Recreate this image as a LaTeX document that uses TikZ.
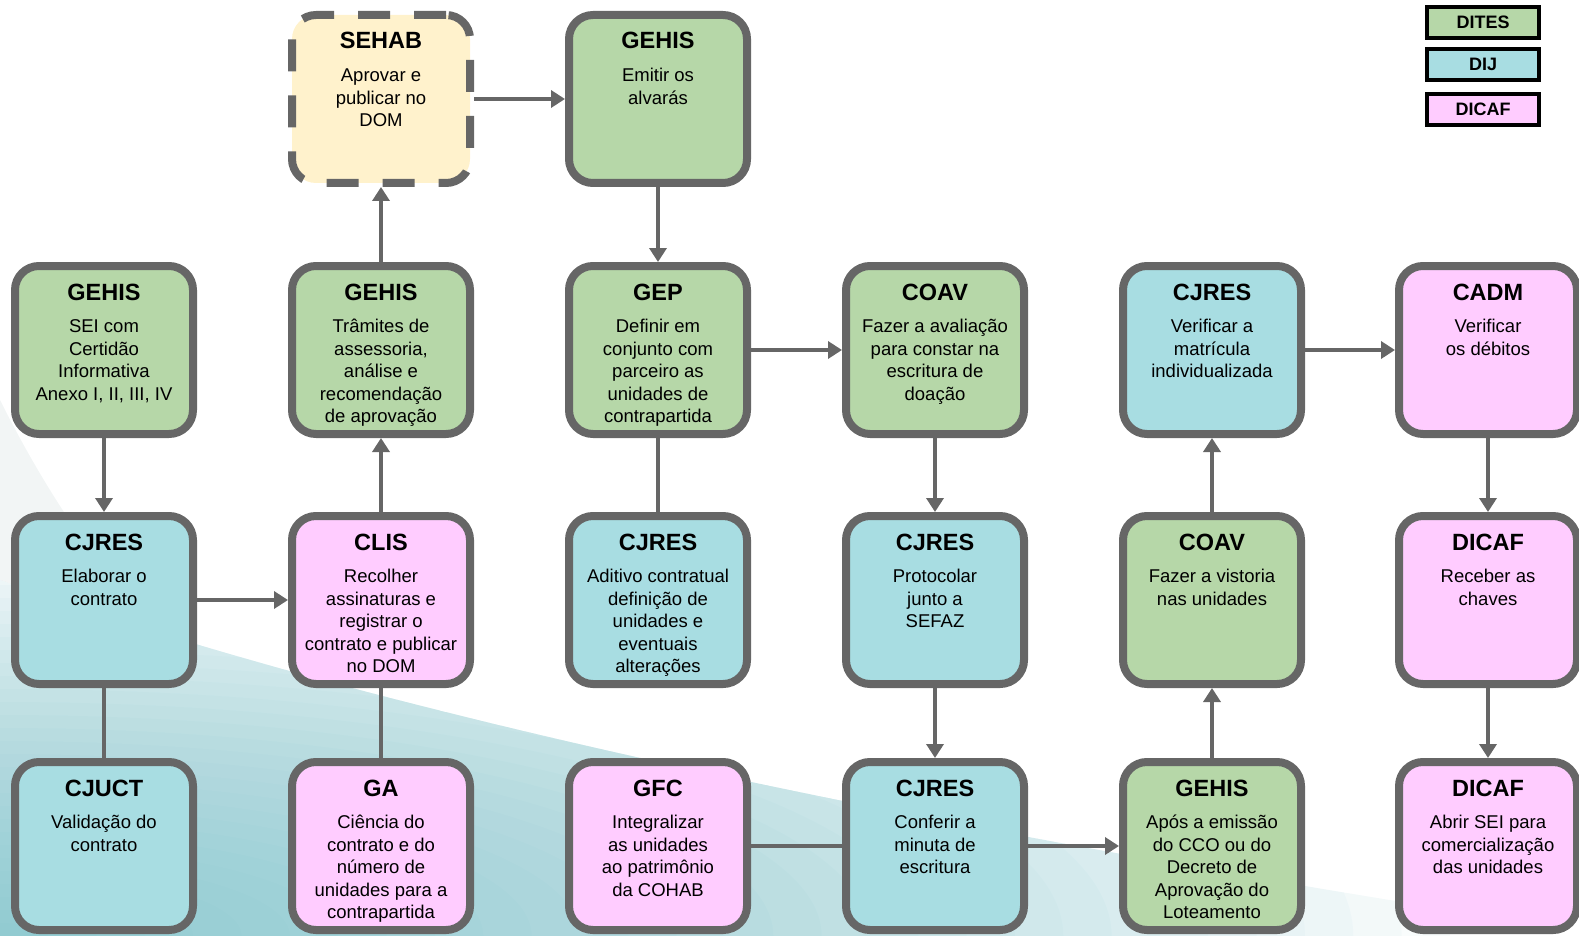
\documentclass[tikz,border=0pt]{standalone}
\usepackage{fontspec}
\setmainfont{Liberation Sans}
\usetikzlibrary{arrows.meta}

\definecolor{cinza}{HTML}{666666}
\definecolor{verde}{HTML}{B6D7A8}
\definecolor{ciano}{HTML}{A8DDE2}
\definecolor{rosa}{HTML}{FFCCFF}
\definecolor{creme}{HTML}{FFF2CC}
\definecolor{fundoL}{HTML}{6FBFC8}
\definecolor{fundoB}{HTML}{F2F5F5}

% one process step: name, x, y, fill style, unit, task
\newcommand{\etapa}[6]{%
  \node[box, #4] (#1) at (#2,#3) {};
  \node[ttl] (#1-t) at ([yshift=-38pt]#1.north) {#5};
  \node[txt] (#1-b) at ([yshift=-55pt]#1.north) {\strut #6};
}

\begin{document}
\begin{tikzpicture}[x=1pt, y=-1pt,
  box/.style={draw=cinza, line width=8pt, rounded corners=24pt,
    minimum width=178pt, minimum height=168pt, inner sep=0pt},
  ttl/.style={font=\fontsize{23.5}{23.5}\selectfont\bfseries, anchor=base, inner sep=0pt},
  txt/.style={font=\fontsize{18.5}{22.5}\selectfont, align=center, anchor=north, inner sep=0pt},
  legbox/.style={draw=black, line width=4pt, minimum width=112pt, minimum height=31pt,
    inner sep=0pt, font=\fontsize{18}{18}\selectfont\bfseries},
  seta/.style={draw=cinza, line width=4.5pt, -{Triangle[length=14pt,width=17pt]}},
  liga/.style={draw=cinza, line width=4.5pt},
  dites/.style={fill=verde}, dij/.style={fill=ciano}, dicaf/.style={fill=rosa},
  sehab/.style={fill=creme, dash pattern=on 32pt off 24pt}]

\useasboundingbox (0,0) rectangle (1579,936);

% soft background swoosh, lower left: thin translucent layers build the fade
\fill[fundoB] (0,400) .. controls (40,480) and (90,560) .. (170,650)
  -- (0,650) -- cycle;
\begin{scope}
  \clip (0,580) .. controls (250,670) and (700,795) .. (1579,930)
    -- (1579,936) -- (0,936) -- cycle;
  \fill[white] (0,560) rectangle (1579,936);
  \foreach \k in {1,...,30} {
    \fill[fundoL, opacity=0.04]
      (0,936) ellipse [x radius={48.33pt*\k}, y radius={13pt*\k}];
  }
\end{scope}

% row 1
\etapa{sehab}{381}{99}{sehab}{SEHAB}{Aprovar e\\publicar no\\DOM}
\etapa{alvaras}{658}{99}{dites}{GEHIS}{Emitir os\\alvarás}

% row 2
\etapa{sei}{104}{350}{dites}{GEHIS}{SEI com\\Certidão\\Informativa\\Anexo I, II, III, IV}
\etapa{tramites}{381}{350}{dites}{GEHIS}{Trâmites de\\assessoria,\\análise e\\recomendação\\de aprovação}
\etapa{gep}{658}{350}{dites}{GEP}{Definir em\\conjunto com\\parceiro as\\unidades de\\contrapartida}
\etapa{avaliacao}{935}{350}{dites}{COAV}{Fazer a avaliação\\para constar na\\escritura de\\doação}
\etapa{matricula}{1212}{350}{dij}{CJRES}{Verificar a\\matrícula\\individualizada}
\etapa{debitos}{1488}{350}{dicaf}{CADM}{Verificar\\os débitos}

% row 3
\etapa{elaborar}{104}{600}{dij}{CJRES}{Elaborar o\\contrato}
\etapa{clis}{381}{600}{dicaf}{CLIS}{Recolher\\assinaturas e\\registrar o\\contrato e publicar\\no DOM}
\etapa{aditivo}{658}{600}{dij}{CJRES}{Aditivo contratual\\definição de\\unidades e\\eventuais\\alterações}
\etapa{sefaz}{935}{600}{dij}{CJRES}{Protocolar\\junto a\\SEFAZ}
\etapa{vistoria}{1212}{600}{dites}{COAV}{Fazer a vistoria\\nas unidades}
\etapa{chaves}{1488}{600}{dicaf}{DICAF}{Receber as\\chaves}

% row 4
\etapa{cjuct}{104}{846}{dij}{CJUCT}{Validação do\\contrato}
\etapa{ga}{381}{846}{dicaf}{GA}{Ciência do\\contrato e do\\número de\\unidades para a\\contrapartida}
\etapa{gfc}{658}{846}{dicaf}{GFC}{Integralizar\\as unidades\\ao patrimônio\\da COHAB}
\etapa{minuta}{935}{846}{dij}{CJRES}{Conferir a\\minuta de\\escritura}
\etapa{cco}{1212}{846}{dites}{GEHIS}{Após a emissão\\do CCO ou do\\Decreto de\\Aprovação do\\Loteamento}
\etapa{sei2}{1488}{846}{dicaf}{DICAF}{Abrir SEI para\\comercialização\\das unidades}

% legend
\node[legbox, dites] (leg1) at (1483,22.5) {DITES};
\node[legbox, dij]   (leg2) at (1483,64.5) {DIJ};
\node[legbox, dicaf] (leg3) at (1483,109.5) {DICAF};

% connectors
\draw[seta] (sehab) -- (alvaras);
\draw[seta] (alvaras) -- (gep);
\draw[seta] (tramites) -- (sehab);
\draw[seta] (sei) -- (elaborar);
\draw[seta] (elaborar) -- (clis);
\draw[seta] (clis) -- (tramites);
\draw[liga] (elaborar) -- (cjuct);
\draw[liga] (clis) -- (ga);
\draw[liga] (gep) -- (aditivo);
\draw[seta] (gep) -- (avaliacao);
\draw[seta] (avaliacao) -- (sefaz);
\draw[seta] (sefaz) -- (minuta);
\draw[liga] (gfc) -- (minuta);
\draw[seta] (minuta) -- (cco);
\draw[seta] (cco) -- (vistoria);
\draw[seta] (vistoria) -- (matricula);
\draw[seta] (matricula) -- (debitos);
\draw[seta] (debitos) -- (chaves);
\draw[seta] (chaves) -- (sei2);
\end{tikzpicture}
\end{document}
